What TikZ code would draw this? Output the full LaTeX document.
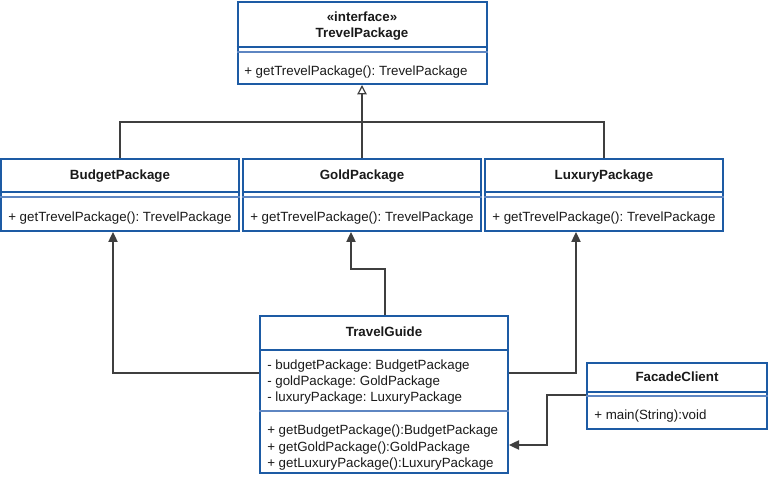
\documentclass[tikz,border=0pt]{standalone}
\usepackage{fontspec}
\setmainfont{Liberation Sans}
\usetikzlibrary{fit,arrows.meta}
\frenchspacing
\definecolor{umlblue}{HTML}{1D5BA4}
\definecolor{umlsep}{HTML}{5E86C2}
\definecolor{conncol}{HTML}{3F3F3F}
\definecolor{txt}{HTML}{1A1A1A}
\tikzset{
 classbox/.style={draw=umlblue, line width=1.5pt, fill=white, inner sep=0pt},
 hdrline/.style={draw=umlblue, line width=1.5pt},
 sepline/.style={draw=umlsep, line width=0.8pt},
 ttl/.style={font=\fontsize{10}{12}\selectfont\bfseries, text=txt, anchor=base, inner sep=0pt},
 mem/.style={font=\fontsize{10}{12}\selectfont, text=txt, anchor=base west, inner sep=0pt},
 link/.style={draw=conncol, line width=0.9pt},
 assoc/.style={link, -{Triangle[length=7.5pt,width=7pt]}},
 gen/.style={link, -{Triangle[open,length=7pt,width=7pt,fill=white]}},
}
\begin{document}
\begin{tikzpicture}[x=0.75pt,y=-0.75pt]
\useasboundingbox (0,0) rectangle (768,477);
\fill[white] (0,0) rectangle (768,477);

% ---------- boxes ----------
\node[classbox, fit={(237.5,2) (486.5,84)}] (iface) {};
\node[classbox, fit={(1,159) (239,231)}] (budget) {};
\node[classbox, fit={(243,159) (481,231)}] (gold) {};
\node[classbox, fit={(485,159) (723,231)}] (lux) {};
\node[classbox, fit={(260,316) (508,473)}] (guide) {};
\node[classbox, fit={(587,363) (767,429)}] (facade) {};

% ---------- dividers ----------
\draw[hdrline] (iface.west |- 0,47) -- (iface.east |- 0,47);
\draw[sepline] (iface.west |- 0,52) -- (iface.east |- 0,52);
\draw[hdrline] (budget.west |- 0,192) -- (budget.east |- 0,192);
\draw[sepline] (budget.west |- 0,197) -- (budget.east |- 0,197);
\draw[hdrline] (gold.west |- 0,192) -- (gold.east |- 0,192);
\draw[sepline] (gold.west |- 0,197) -- (gold.east |- 0,197);
\draw[hdrline] (lux.west |- 0,192) -- (lux.east |- 0,192);
\draw[sepline] (lux.west |- 0,197) -- (lux.east |- 0,197);
\draw[hdrline] (guide.west |- 0,350) -- (guide.east |- 0,350);
\draw[sepline] (guide.west |- 0,411) -- (guide.east |- 0,411);
\draw[hdrline] (facade.west |- 0,392) -- (facade.east |- 0,392);
\draw[sepline] (facade.west |- 0,396) -- (facade.east |- 0,396);

% ---------- texts ----------
\node[ttl] (ifacest) at (362,22) {«interface»};
\node[ttl] (ifacet) at (362,38) {TrevelPackage};
\node[mem] (ifacem) at (244,76) {+ getTrevelPackage(): TrevelPackage};

\node[ttl] (budgett) at (120,180) {BudgetPackage};
\node[mem] (budgetm) at (8,222) {+ getTrevelPackage(): TrevelPackage};
\node[ttl] (goldt) at (362,180) {GoldPackage};
\node[mem] (goldm) at (250,222) {+ getTrevelPackage(): TrevelPackage};
\node[ttl] (luxt) at (604,180) {LuxuryPackage};
\node[mem] (luxm) at (492,222) {+ getTrevelPackage(): TrevelPackage};

\node[ttl] (guidet) at (384,337) {TravelGuide};
\node[mem] (guidea1) at (267,370) {- budgetPackage: BudgetPackage};
\node[mem] (guidea2) at (267,386) {- goldPackage: GoldPackage};
\node[mem] (guidea3) at (267,402) {- luxuryPackage: LuxuryPackage};
\node[mem] (guidem1) at (267,435) {+ getBudgetPackage():BudgetPackage};
\node[mem] (guidem2) at (267,451) {+ getGoldPackage():GoldPackage};
\node[mem] (guidem3) at (267,467) {+ getLuxuryPackage():LuxuryPackage};

\node[ttl] (facadet) at (677,382) {FacadeClient};
\node[mem] (facadem) at (594,420) {+ main(String):void};

% ---------- generalization ----------
\coordinate (jg) at (362,122);
\draw[link] (budget.north) |- (jg) -| (lux.north);
\draw[link] (gold.north) -- (jg);
\draw[gen] (jg) -- (iface.south);

% ---------- associations ----------
\coordinate (b1) at (113,373);
\draw[assoc] (b1 -| guide.west) -- (b1) -- (b1 |- budget.south);
\coordinate (g1) at (385,269);
\coordinate (g2) at (351,269);
\draw[assoc] (g1 |- guide.north) -- (g1) -- (g2) -- (g2 |- gold.south);
\coordinate (l1) at (576,373);
\draw[assoc] (l1 -| guide.east) -- (l1) -- (l1 |- lux.south);
\coordinate (f1) at (547,395);
\coordinate (f2) at (547,445);
\draw[assoc] (f1 -| facade.west) -- (f1) -- (f2) -- (f2 -| guide.east);
\end{tikzpicture}
\end{document}
